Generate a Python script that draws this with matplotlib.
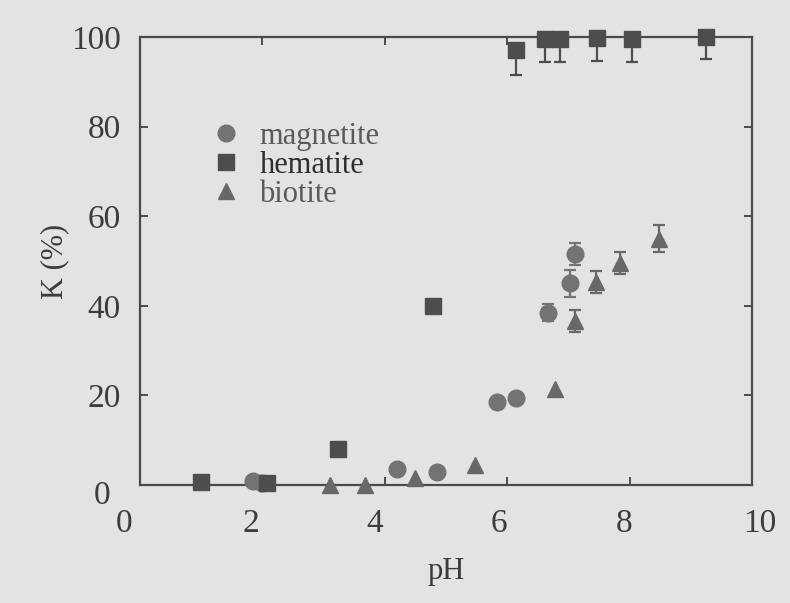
import matplotlib
matplotlib.use("Agg")
import matplotlib.pyplot as plt
import matplotlib.transforms as mtransforms
import numpy as np

# data
mag_ph = [1.85, 2.0, 4.2, 4.85, 5.83, 6.14, 6.66, 7.02, 7.1]
mag_k = [0.8, 0.4, 3.6, 2.9, 18.5, 19.4, 38.5, 45.0, 51.5]
mag_err = [0, 0, 0, 0, 0, 0, 2, 3, 2.5]

hem_ph = [1.0, 2.07, 3.24, 4.78, 6.15, 6.62, 6.86, 7.46, 8.04, 9.25]
hem_k = [0.7, 0.4, 8.0, 40.0, 97.0, 99.5, 99.5, 99.7, 99.5, 100.0]
hem_err = [0, 0, 0, 1.5, 5.5, 5, 5, 5, 5, 5]

bio_ph = [3.1, 3.68, 4.5, 5.48, 6.78, 7.1, 7.45, 7.84, 8.48]
bio_k = [0.0, 0.0, 1.6, 4.5, 21.4, 36.6, 45.3, 49.6, 55.0]
bio_err = [0, 0, 0, 0, 0, 2.5, 2.5, 2.5, 3]

xticks = [0, 2, 4, 6, 8, 10]
yticks = [0, 20, 40, 60, 80, 100]

bg = '#e3e3e3'
ink = '#4a4a4a'
plt.rcParams['font.family'] = ['Liberation Serif', 'DejaVu Serif']

fig = plt.figure(figsize=(7.9, 6.03), dpi=100, facecolor=bg)
ax = fig.add_axes([140/790, 1-485/603, 612/790, 448/603], facecolor=bg)

def pts(ph, k, err, marker, color, size, label, lower_only=False):
    ph, k, err = np.array(ph), np.array(k), np.array(err)
    m = err > 0
    if lower_only:
        # hematite bars near 100 % only show below the marker
        yerr = [err[m], np.zeros(m.sum())]
    else:
        yerr = err[m]
    ax.errorbar(ph[m], k[m], yerr=yerr, fmt='none', ecolor=color, elinewidth=1.6,
                capsize=4, capthick=1.6, clip_on=False, zorder=2)
    ax.plot(ph, k, linestyle='none', marker=marker, ms=size, color=color,
            mec=color, label=label, clip_on=False, zorder=3)

pts(mag_ph, mag_k, mag_err, 'o', '#737373', 12, 'magnetite')
pts(hem_ph, hem_k, hem_err, 's', '#4d4d4d', 11, 'hematite', lower_only=True)
pts(bio_ph, bio_k, bio_err, '^', '#686868', 11, 'biotite')

ax.set_xlim(0, 10)
ax.set_ylim(0, 100)
ax.set_xticks(xticks)
ax.set_yticks(yticks)
ax.tick_params(direction='in', length=6, width=1.4, color=ink, top=True, right=True,
               labelsize=24, labelcolor='#3c3c3c', pad=14)
ax.tick_params(axis='x', pad=17)
for s in ax.spines.values():
    s.set_color(ink)
    s.set_linewidth(1.6)

# shift tick labels like in the scan
xoff = [-16, -12, -10, -8, -6, 8]
for lab, dx in zip(ax.get_xticklabels(), xoff):
    lab.set_transform(lab.get_transform() + mtransforms.ScaledTranslation(dx/100, 0, fig.dpi_scale_trans))
ylab0 = ax.get_yticklabels()[0]
ylab0.set_transform(ylab0.get_transform() + mtransforms.ScaledTranslation(-10/100, -7/100, fig.dpi_scale_trans))

ax.set_xlabel('pH', fontsize=22, color='#3c3c3c', labelpad=13)
ax.set_ylabel('K (%)', fontsize=22, color='#3c3c3c', labelpad=1)

leg = ax.legend(loc='upper left', bbox_to_anchor=(0.09, 0.845), frameon=False, fontsize=22,
                labelspacing=0.0, handletextpad=0.6, handlelength=1.0, borderpad=0)
for t in leg.get_texts():
    t.set_color('#5a5a5a')
leg.get_texts()[1].set_color('#2e2e2e')

fig.savefig('out.png', dpi=100, facecolor=bg)
